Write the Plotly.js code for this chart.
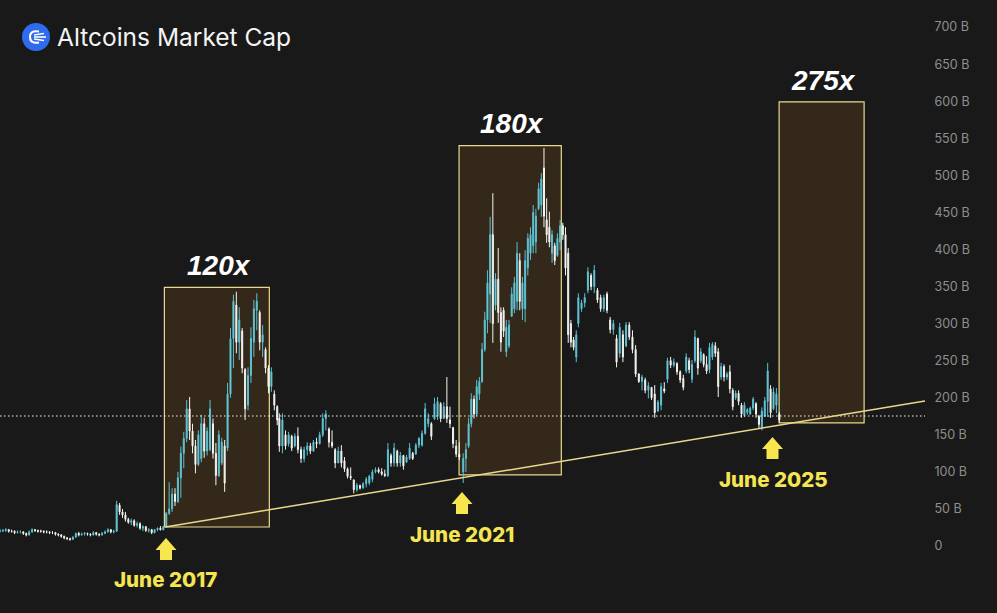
<!DOCTYPE html>
<html>
<head>
<meta charset="utf-8">
<script src="https://cdn.plot.ly/plotly-3.0.1.min.js"></script>
<style>html,body{margin:0;padding:0;background:#191919;overflow:hidden}#chart{width:997px;height:613px}</style>
</head>
<body>
<div id="chart"></div>
<script>
// Candle rows are [open, high, low, close] in billions of dollars.
const era2015 = [[20,23,18,20],[20,23,19,21],[21,24,19,22],[22,23,18,20],[20,22,18,20],[20,21,16,18],[18,21,17,19],[19,21,17,19],[19,20,15,17],[17,18,13,15],
[15,21,14,19],[19,24,18,22],[22,23,19,21],[21,22,18,20],[20,22,18,20],[20,21,17,19],[19,21,17,19],[19,20,16,18],[18,20,16,18],[18,19,14,16],
[16,17,13,15],[15,16,11,13],[13,14,9,11],[11,12,8,10],[10,11,7,9],[9,13,8,12],[12,18,11,17],[17,19,13,15],[15,18,14,16],[16,19,14,17],
[17,18,14,16],[16,17,13,15],[15,20,14,18],[18,19,14,16],[16,17,13,15],[15,19,14,17],[17,21,16,19],[19,24,18,22],[22,23,17,19],[19,22,17,20],
[20,61,19,56],[55,58,42,46],[46,50,38,42],[42,46,33,36],[36,38,30,32],[32,37,28,34],[34,36,26,28],[28,33,25,30],[30,32,22,24],[24,28,20,26],
[26,27,19,21],[21,24,18,22],[22,23,16,18],[18,23,17,22],[22,25,20,24],[24,27,21,22],[22,27,21,26],[26,46,25,44]];
const era2017 = [[44,86,42,50],[50,78,46,70],[70,78,54,60],[60,100,58,92],[92,134,65,125],[125,154,105,145],[145,197,140,185],[185,201,143,155],[155,165,125,135],[135,143,98,110],
[110,156,108,150],[118,177,113,165],[165,173,119,128],[128,160,122,155],[130,197,128,185],[165,172,118,125],[125,139,82,95],[95,156,93,150],[112,146,109,140],[135,143,73,85],
[132,220,128,205],[205,294,200,280],[280,339,240,330],[325,343,260,275],[275,322,251,305],[290,294,233,240],[238,240,170,185],[190,241,183,230],[230,295,220,280],[275,332,255,320],
[318,341,291,330],[315,318,264,275],[275,298,255,285],[265,268,233,240],[240,244,206,215],[215,241,208,235],[205,210,183,190],[188,190,163,170]];
const era2019 = [[172,179,127,135],[135,179,125,170],[150,156,130,135],[138,154,134,150],[148,150,128,132],[135,152,133,148],[148,160,125,130],[130,134,112,118],[118,134,113,130],[130,140,122,135],
[135,139,124,128],[128,143,127,140],[140,146,132,138],[138,154,137,150],[150,179,147,172],[172,183,156,178],[158,160,133,140],[140,156,132,135],[130,132,105,112],[112,134,112,128],
[128,136,106,112],[115,120,100,104],[104,106,91,94],[94,106,89,92],[89,90,71,76],[76,85,73,82],[82,82,76,78],[78,86,78,84],[84,93,79,90],[85,96,82,94],
[90,103,86,100],[100,106,98,103],[103,106,98,100],[100,105,95,97],[97,103,93,95],[95,139,93,130],[122,125,107,112],[112,139,107,132],[128,130,107,112],[112,127,107,122],
[122,123,103,108],[113,123,112,120],[118,139,116,132],[125,127,116,118],[124,139,123,136],[136,147,132,145],[136,156,134,152],[152,193,150,185],[165,179,160,172],[165,167,143,148],
[172,200,170,192],[175,201,170,195],[192,194,167,172],[172,194,172,188],[188,228,166,172],[170,188,159,165],[160,160,132,138],[135,143,120,124],[124,140,116,120]];
const era2021 = [[100,125,85,118],[118,139,100,130],[135,173,132,165],[165,206,160,198],[198,203,172,178],[178,224,175,215],[205,228,197,222],[222,274,220,265],[265,316,262,305],[305,372,287,355],
[340,444,301,420],[420,476,274,300],[325,368,318,360],[360,402,301,315],[315,322,262,275],[318,322,282,290],[262,305,255,295],[270,305,267,298],[310,349,309,340],[320,363,314,355],
[330,410,318,395],[385,395,318,330],[320,363,305,355],[320,399,302,385],[375,422,365,415],[395,430,386,420],[405,460,395,450],[410,455,395,445],[455,490,453,482],[460,503,444,495],
[510,537,430,445],[440,469,409,420],[430,451,403,410],[395,426,382,420],[405,409,379,385],[392,422,390,415],[410,440,399,432],[432,436,413,420],[420,430,365,375],[395,402,274,285],
[300,305,268,275],[278,282,264,268],[255,291,248,285]];
const era2023 = [[300,341,295,335],[320,332,316,328],[328,341,322,335],[345,376,341,370],[365,368,345,350],[350,379,341,372],[345,348,328,332],[335,339,316,320],[320,339,316,335],[340,343,314,318],
[305,309,287,292],[292,305,285,300],[280,285,241,248],[260,301,254,295],[285,291,248,255],[270,302,268,298],[298,302,278,282],[282,291,260,265],[265,271,228,232],[232,233,220,222],
[222,231,210,228],[224,227,206,210],[210,221,199,216],[214,214,197,200],[205,217,173,180],[182,197,181,194],[190,220,183,215],[212,221,206,209],[225,254,220,250],[250,255,240,244],
[244,253,241,248],[246,248,231,235],[235,237,220,224]];
const era2024 = [[226,231,210,214],[236,260,233,255],[250,254,233,238],[225,251,220,245],[250,291,247,282],[280,281,231,240],[250,267,247,262],[258,260,241,245],[245,256,232,236],[238,274,233,268],
[255,275,251,272],[270,275,255,260],[262,267,201,215],[228,247,224,242],[242,245,222,228],[228,235,224,232],[235,244,206,212],[210,213,183,188],[200,210,197,206],[206,210,190,195],
[190,193,173,178],[176,194,174,190],[180,186,177,184],[178,188,177,186],[186,201,183,198],[192,194,173,178],[175,177,159,164],[160,187,156,182],[175,201,174,196],[195,247,174,236],
[212,217,173,180],[185,214,183,208],[190,213,179,205],[178,181,166,170]];

const eraFirstDates = ['2015-03-29','2017-06-20','2018-12-02','2021-05-05','2022-11-10','2024-03-29'];
const eraLastDates  = ['2017-06-06','2018-11-22','2021-04-16','2022-10-31','2024-03-14','2025-07-04'];
const eras = [era2015, era2017, era2019, era2021, era2023, era2024];

const tickValues = [0,50,100,150,200,250,300,350,400,450,500,550,600,650,700];
const tickLabels = ['0','50 B','100 B','150 B','200 B','250 B','300 B','350 B','400 B','450 B','500 B','550 B','600 B','650 B','700 B'];

const boxFirstDates = ['2017-05-28','2021-04-15','2025-07-03'];
const boxLastDates  = ['2018-10-15','2022-08-20','2026-08-16'];
const boxTops    = [349,540,599];
const boxBottoms = [25.6,96,166];
const boxLabels  = ['120x','180x','275x'];

const trendDates  = ['2017-06-01','2027-06-05'];
const trendValues = [25.6,195.6];
const priceLevel  = 175.4;
const junes = ['June 2017','June 2021','June 2025'];

const dates=[],open=[],high=[],low=[],close=[];
eras.forEach((rows,e)=>{
  const a=Date.parse(eraFirstDates[e]), b=Date.parse(eraLastDates[e]);
  rows.forEach((r,i)=>{
    dates.push(a+(b-a)*i/(rows.length-1));
    open.push(r[0]);high.push(r[1]);low.push(r[2]);close.push(r[3]);
  });
});

const W=925,H=613;
const px=x=>x/W, py=y=>1-y/H;
const edge='#e9d98f';

const shapes=[];
boxFirstDates.forEach((d,i)=>shapes.push({type:'rect',xref:'x',yref:'y',x0:d,x1:boxLastDates[i],y0:boxBottoms[i],y1:boxTops[i],
  fillcolor:'#33281a',opacity:1,line:{color:edge,width:1.2},layer:'below'}));
shapes.push({type:'line',xref:'x',yref:'y',x0:dates[0],x1:'2027-06-05',y0:priceLevel,y1:priceLevel,line:{color:'#f4f4ec',width:1.2,dash:'1.5px,2.5px'},layer:'above'});
shapes.push({type:'line',xref:'x',yref:'y',x0:trendDates[0],x1:trendDates[1],y0:trendValues[0],y1:trendValues[1],line:{color:edge,width:1.5},layer:'above'});

function arrow(cx,tip,neck,bottom){
  const p=[[cx,tip],[cx+10.5,neck],[cx+6,neck],[cx+6,bottom],[cx-6,bottom],[cx-6,neck],[cx-10.5,neck]];
  return {type:'path',xref:'paper',yref:'paper',path:'M'+p.map(q=>px(q[0])+','+py(q[1])).join('L')+'Z',fillcolor:'#f7e64e',line:{width:0},layer:'above'};
}
shapes.push(arrow(166,538,550,560),arrow(462,492,504,514),arrow(772.5,437,449,459));

// brand mark
shapes.push({type:'circle',xref:'paper',yref:'paper',x0:px(22),x1:px(50),y0:py(51),y1:py(23),fillcolor:'#2f6bee',line:{width:0}});
shapes.push({type:'path',xref:'paper',yref:'paper',path:`M${px(39)},${py(31.5)}Q${px(30)},${py(30)} ${px(30)},${py(37)}Q${px(30)},${py(44)} ${px(39)},${py(42.5)}`,line:{color:'#fff',width:2}});
[[34,35,44,33.5],[34,37,46,37],[34,39,44,40.5]].forEach(l=>shapes.push({type:'line',xref:'paper',yref:'paper',x0:px(l[0]),y0:py(l[1]),x1:px(l[2]),y1:py(l[3]),line:{color:'#fff',width:1.6}}));

const ann=[];
[[219,265],[512,123],[823,80]].forEach((c,i)=>ann.push({xref:'paper',yref:'paper',x:px(c[0]),y:py(c[1]),text:boxLabels[i],showarrow:false,xanchor:'center',yanchor:'middle',
  font:{family:'Liberation Sans',size:28,color:'#ffffff',weight:700,style:'italic'}}));
[[165.5,579],[462,534],[773,479]].forEach((c,i)=>ann.push({xref:'paper',yref:'paper',x:px(c[0]),y:py(c[1]),text:junes[i],showarrow:false,xanchor:'center',yanchor:'middle',
  font:{family:'Inter',size:20.5,color:'#f5e552',weight:800}}));

const trace={type:'candlestick',x:dates,open,high,low,close,width:1.0e9,hoverinfo:'skip',
  increasing:{line:{color:'#5cc0d2',width:1},fillcolor:'#86e2ec'},
  decreasing:{line:{color:'#f5f5f0',width:1},fillcolor:'#f5f5f0'}};

Plotly.newPlot('chart',[trace],{
  width:997,height:613,
  margin:{l:0,r:72,t:0,b:0,pad:0},
  paper_bgcolor:'#191919',plot_bgcolor:'#191919',
  showlegend:false,hovermode:false,
  title:{text:'Altcoins Market Cap',xref:'container',yref:'container',x:57/997,y:1-37/613,xanchor:'left',yanchor:'middle',
    font:{family:'Inter',size:24.5,color:'#f4f4f4'}},
  xaxis:{type:'date',range:['2015-03-29','2027-06-05'],visible:false,rangeslider:{visible:false},showgrid:false,zeroline:false,fixedrange:true},
  yaxis:{side:'right',range:[(546-613)*1.349,546*1.349],tickmode:'array',tickvals:tickValues,ticktext:tickLabels,showgrid:false,zeroline:false,showline:false,
    ticks:'outside',ticklen:6,tickcolor:'rgba(0,0,0,0)',tickfont:{family:'Inter',size:12.5,color:'#8f8f8f'},fixedrange:true},
  shapes,annotations:ann
},{displayModeBar:false,staticPlot:true});
</script>
</body>
</html>
